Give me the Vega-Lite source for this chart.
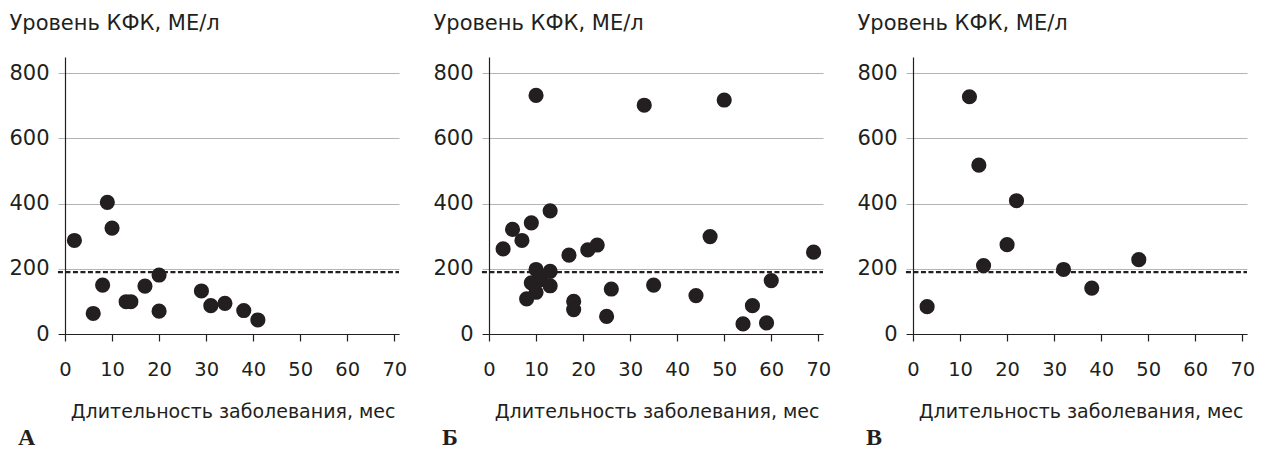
{
  "$schema": "https://vega.github.io/schema/vega-lite/v6.json",
  "background": "white",
  "padding": {"left": 8, "top": 12, "right": 5, "bottom": 0},
  "datasets": {
    "a": [
      {"dur": 2, "ck": 287}, {"dur": 9, "ck": 404}, {"dur": 10, "ck": 325}, {"dur": 8, "ck": 150},
      {"dur": 6, "ck": 63}, {"dur": 13, "ck": 99}, {"dur": 14, "ck": 99}, {"dur": 17, "ck": 147},
      {"dur": 20, "ck": 181}, {"dur": 20, "ck": 70}, {"dur": 29, "ck": 132}, {"dur": 31, "ck": 87},
      {"dur": 34, "ck": 94}, {"dur": 38, "ck": 72}, {"dur": 41, "ck": 43}
    ],
    "b": [
      {"dur": 10, "ck": 732}, {"dur": 33, "ck": 702}, {"dur": 50, "ck": 718}, {"dur": 13, "ck": 378},
      {"dur": 9, "ck": 341}, {"dur": 5, "ck": 321}, {"dur": 7, "ck": 287}, {"dur": 3, "ck": 261},
      {"dur": 17, "ck": 242}, {"dur": 21, "ck": 258}, {"dur": 23, "ck": 273}, {"dur": 47, "ck": 299},
      {"dur": 69, "ck": 251}, {"dur": 10, "ck": 198}, {"dur": 13, "ck": 192}, {"dur": 9, "ck": 157},
      {"dur": 11, "ck": 167}, {"dur": 10, "ck": 128}, {"dur": 13, "ck": 148}, {"dur": 8, "ck": 108},
      {"dur": 18, "ck": 100}, {"dur": 18, "ck": 75}, {"dur": 25, "ck": 54}, {"dur": 26, "ck": 138},
      {"dur": 35, "ck": 150}, {"dur": 44, "ck": 118}, {"dur": 60, "ck": 164}, {"dur": 56, "ck": 87},
      {"dur": 54, "ck": 31}, {"dur": 59, "ck": 34}
    ],
    "c": [
      {"dur": 3, "ck": 84}, {"dur": 12, "ck": 728}, {"dur": 14, "ck": 518}, {"dur": 22, "ck": 409},
      {"dur": 20, "ck": 274}, {"dur": 15, "ck": 210}, {"dur": 32, "ck": 198}, {"dur": 38, "ck": 141},
      {"dur": 48, "ck": 228}
    ],
    "ref": [{"ck": 190}]
  },
  "hconcat": [
    {
      "width": 334, "height": 277,
      "title": {"text": "А", "orient": "bottom", "anchor": "start", "frame": "group", "dx": -47, "offset": 5},
      "layer": [
        {"data": {"name": "ref"}, "mark": {"type": "rule", "strokeDash": [5, 2.5], "strokeWidth": 2.2, "color": "#231f20"},
         "encoding": {"y": {"field": "ck", "type": "quantitative", "scale": {"domain": [0, 850], "nice": false}}, "x": {"datum": -1.5, "type": "quantitative", "scale": {"domain": [0, 71], "nice": false}}, "x2": {"datum": 71}}},
        {"data": {"name": "a"}, "mark": {"type": "circle", "size": 230, "opacity": 1, "color": "#231f20"},
         "encoding": {
           "x": {"field": "dur", "type": "quantitative", "scale": {"domain": [0, 71], "nice": false}, "axis": {"values": [0, 10, 20, 30, 40, 50, 60, 70], "title": "Длительность заболевания, мес"}},
           "y": {"field": "ck", "type": "quantitative", "scale": {"domain": [0, 850], "nice": false}, "axis": {"values": [0, 200, 400, 600, 800], "title": "Уровень КФК, МЕ/л"}}
         }}
      ]
    },
    {
      "width": 334, "height": 277,
      "title": {"text": "Б", "orient": "bottom", "anchor": "start", "frame": "group", "dx": -47, "offset": 5},
      "layer": [
        {"data": {"name": "ref"}, "mark": {"type": "rule", "strokeDash": [5, 2.5], "strokeWidth": 2.2, "color": "#231f20"},
         "encoding": {"y": {"field": "ck", "type": "quantitative", "scale": {"domain": [0, 850], "nice": false}}, "x": {"datum": -1.5, "type": "quantitative", "scale": {"domain": [0, 71], "nice": false}}, "x2": {"datum": 71}}},
        {"data": {"name": "b"}, "mark": {"type": "circle", "size": 230, "opacity": 1, "color": "#231f20"},
         "encoding": {
           "x": {"field": "dur", "type": "quantitative", "scale": {"domain": [0, 71], "nice": false}, "axis": {"values": [0, 10, 20, 30, 40, 50, 60, 70], "title": "Длительность заболевания, мес"}},
           "y": {"field": "ck", "type": "quantitative", "scale": {"domain": [0, 850], "nice": false}, "axis": {"values": [0, 200, 400, 600, 800], "title": "Уровень КФК, МЕ/л"}}
         }}
      ]
    },
    {
      "width": 334, "height": 277,
      "title": {"text": "В", "orient": "bottom", "anchor": "start", "frame": "group", "dx": -47, "offset": 5},
      "layer": [
        {"data": {"name": "ref"}, "mark": {"type": "rule", "strokeDash": [5, 2.5], "strokeWidth": 2.2, "color": "#231f20"},
         "encoding": {"y": {"field": "ck", "type": "quantitative", "scale": {"domain": [0, 850], "nice": false}}, "x": {"datum": -1.5, "type": "quantitative", "scale": {"domain": [0, 71], "nice": false}}, "x2": {"datum": 71}}},
        {"data": {"name": "c"}, "mark": {"type": "circle", "size": 230, "opacity": 1, "color": "#231f20"},
         "encoding": {
           "x": {"field": "dur", "type": "quantitative", "scale": {"domain": [0, 71], "nice": false}, "axis": {"values": [0, 10, 20, 30, 40, 50, 60, 70], "title": "Длительность заболевания, мес"}},
           "y": {"field": "ck", "type": "quantitative", "scale": {"domain": [0, 850], "nice": false}, "axis": {"values": [0, 200, 400, 600, 800], "title": "Уровень КФК, МЕ/л"}}
         }}
      ]
    }
  ],
  "spacing": 90,
  "bounds": "flush",
  "config": {
    "view": {"stroke": null},
    "font": "DejaVu Sans",
    "title": {"font": "Liberation Serif", "fontWeight": "bold", "fontSize": 24, "color": "#231f20", "baseline": "top"},
    "axisX": {
      "grid": false, "domainColor": "#231f20", "domainWidth": 1.2, "tickColor": "#231f20", "tickSize": 7, "tickWidth": 1.2,
      "labelFont": "DejaVu Sans", "labelFontSize": 19.5, "labelColor": "#231f20", "labelPadding": 19, "labelFlush": false,
      "titleFont": "DejaVu Sans", "titleFontSize": 19, "titleFontWeight": "normal", "titleColor": "#231f20",
      "titleAnchor": "end", "titleAlign": "right", "titleX": 330, "titleY": 83, "titleBaseline": "alphabetic"
    },
    "axisY": {
      "grid": true, "gridColor": "#b4b4b4", "gridWidth": 1, "domainColor": "#231f20", "domainWidth": 1.2,
      "tickColor": {"condition": {"test": "datum.value === 0", "value": "#231f20"}, "value": "#b4b4b4"}, "tickSize": 7,
      "labelFont": "DejaVu Sans", "labelFontSize": 21, "labelColor": "#231f20", "labelPadding": 9,
      "titleFont": "DejaVu Sans", "titleFontSize": 21, "titleFontWeight": "normal", "titleColor": "#231f20",
      "titleAngle": 0, "titleAlign": "left", "titleAnchor": "start", "titleX": -56, "titleY": -28, "titleBaseline": "alphabetic"
    }
  }
}
